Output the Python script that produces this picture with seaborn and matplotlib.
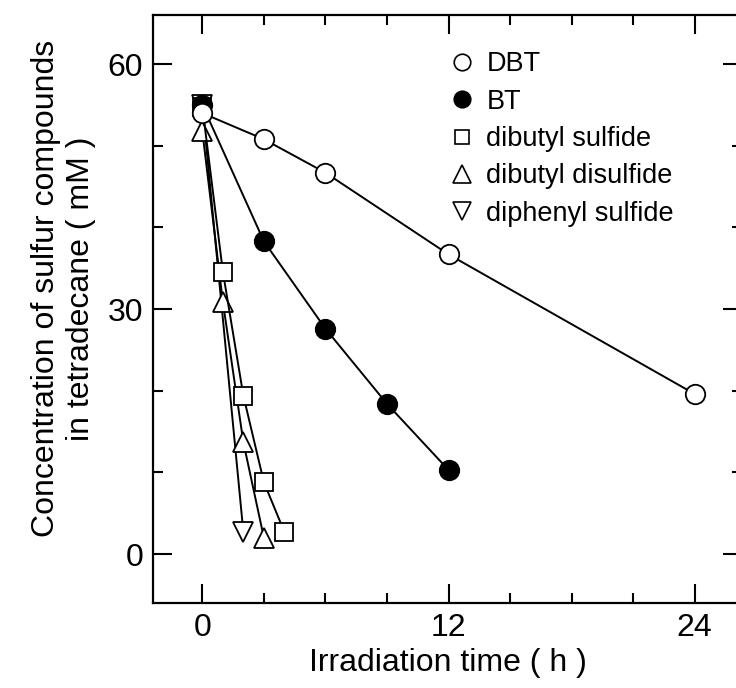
import matplotlib
matplotlib.use("Agg")
import matplotlib.pyplot as plt
from matplotlib.lines import Line2D
from matplotlib.ticker import MultipleLocator
import pandas as pd
import seaborn as sns

# data
dbt_t = [0, 3, 6, 12, 24]
dbt_c = [54.0, 50.8, 46.7, 36.7, 19.6]

bt_t = [0, 3, 6, 9, 12]
bt_c = [55.0, 38.3, 27.6, 18.4, 10.3]

dbs_t = [0, 1, 2, 3, 4]
dbs_c = [54.8, 34.6, 19.4, 8.8, 2.7]

dbds_t = [0, 1, 2, 3]
dbds_c = [51.8, 30.9, 13.7, 2.0]

dps_t = [0, 2]
dps_c = [55.0, 2.7]

labels = ["DBT", "BT", "dibutyl sulfide", "dibutyl disulfide", "diphenyl sulfide"]
series = [(dbt_t, dbt_c), (bt_t, bt_c), (dbs_t, dbs_c), (dbds_t, dbds_c), (dps_t, dps_c)]
markers = ["o", "o", "s", "^", "v"]
faces = ["white", "black", "white", "white", "white"]
msizes = [14, 14, 12.5, 15, 15]

sns.set_style("ticks")
plt.rcParams['font.family'] = ['Liberation Sans', 'DejaVu Sans']
plt.rcParams['text.color'] = 'black'
plt.rcParams['axes.labelcolor'] = 'black'
plt.rcParams['xtick.color'] = 'black'
plt.rcParams['ytick.color'] = 'black'
plt.rcParams['axes.edgecolor'] = 'black'

fig = plt.figure(figsize=(7.36, 6.88), dpi=100)
ax = fig.add_axes([0.208, 0.1235, 1.008 - 0.208, 0.978 - 0.1235])

# draw in reverse so DBT/BT sit on top
for i in reversed(range(len(labels))):
    t, c = series[i]
    d = pd.DataFrame({"t": t, "c": c})
    sns.lineplot(data=d, x="t", y="c", ax=ax, color="black", linewidth=1.4,
                 marker=markers[i], markersize=msizes[i], markerfacecolor=faces[i],
                 markeredgecolor="black", markeredgewidth=1.3, legend=False)

ax.set_xlim(-2.4, 26.3)
ax.set_ylim(-6, 66)
ax.set_xticks([0, 12, 24])
ax.set_yticks([0, 30, 60])
ax.xaxis.set_minor_locator(MultipleLocator(3))
ax.yaxis.set_minor_locator(MultipleLocator(10))
ax.tick_params(which="both", direction="in", top=True, right=True, width=1.5)
ax.tick_params(which="major", length=14, labelsize=23, pad=7)
ax.tick_params(which="minor", length=7)
for sp in ax.spines.values():
    sp.set_linewidth(1.6)
    sp.set_visible(True)

ax.set_xlabel("Irradiation time ( h )", fontsize=23, labelpad=4)
ax.set_ylabel("Concentration of sulfur compounds\nin tetradecane ( mM )", fontsize=23)
ax.yaxis.set_label_coords(-0.097, 0.535)

handles = [Line2D([], [], linestyle="none", marker=markers[i], markersize=msizes[i] * 0.85,
                  markerfacecolor=faces[i], markeredgecolor="black", markeredgewidth=1.2)
           for i in range(len(labels))]
ax.legend(handles, labels, loc="upper left", bbox_to_anchor=(0.465, 0.98), frameon=False,
          fontsize=19.5, handlelength=0.8, handletextpad=0.5, labelspacing=0.42)

fig.savefig("out.png", dpi=100)
